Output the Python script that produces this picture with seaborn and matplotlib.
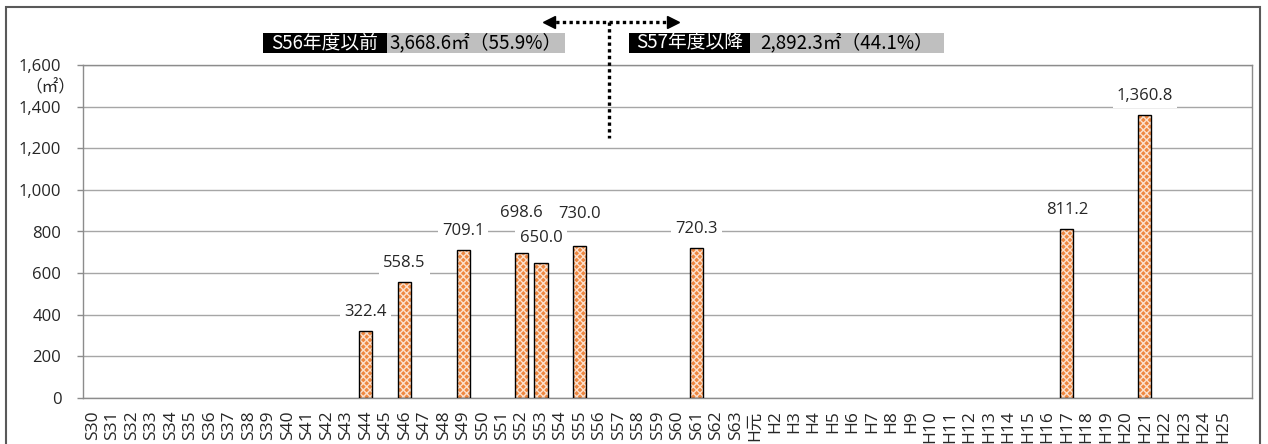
import matplotlib
matplotlib.use("Agg")
import matplotlib.pyplot as plt
from matplotlib.patches import Rectangle
from matplotlib.ticker import FuncFormatter
import numpy as np
import pandas as pd
import seaborn as sns

# Fiscal years on the x axis (Showa / Heisei), last slot left blank
years = [
    "S30", "S31", "S32", "S33", "S34", "S35", "S36", "S37", "S38", "S39",
    "S40", "S41", "S42", "S43", "S44", "S45", "S46", "S47", "S48", "S49",
    "S50", "S51", "S52", "S53", "S54", "S55", "S56", "S57", "S58", "S59",
    "S60", "S61", "S62", "S63", "H元", "H2", "H3", "H4", "H5", "H6",
    "H7", "H8", "H9", "H10", "H11", "H12", "H13", "H14", "H15", "H16",
    "H17", "H18", "H19", "H20", "H21", "H22", "H23", "H24", "H25", "",
]

# Floor area built per year (㎡)
built_years = ["S44", "S46", "S49", "S52", "S53", "S55", "S61", "H17", "H21"]
floor_area = [322.4, 558.5, 709.1, 698.6, 650.0, 730.0, 720.3, 811.2, 1360.8]

y_ticks = [0, 200, 400, 600, 800, 1000, 1200, 1400, 1600]
unit_label = "（㎡）"

before_label = "S56年度以前"
before_total = "3,668.6㎡（55.9%）"
after_label = "S57年度以降"
after_total = "2,892.3㎡（44.1%）"

# label offsets in pixels (dy above bar top)
label_offsets = {"S52": 40, "S53": 25, "S55": 32}

sns.set_theme(style="white")
plt.rcParams["font.family"] = ["Open Sans", "Noto Sans CJK JP", "DejaVu Sans"]
plt.rcParams["hatch.linewidth"] = 1.0

W, H = 1268, 444
fig = plt.figure(figsize=(W / 100, H / 100), dpi=100)
ax = fig.add_axes([83.25 / W, 46 / H, 1168.75 / W, 333 / H])

df = pd.DataFrame({"year": built_years, "area": floor_area})

# patterned fill
sns.barplot(data=df, x="year", y="area", order=years, color="#EE8740",
            saturation=1, width=0.67, errorbar=None, hatch="xxxxx",
            edgecolor="#FCE0CC", linewidth=0, ax=ax, zorder=2)
# black outline
sns.barplot(data=df, x="year", y="area", order=years, color="black",
            saturation=1, width=0.67, errorbar=None, fill=False,
            linewidth=1.0, ax=ax, zorder=3)

ax.set_xlim(-0.5, len(years) - 0.5)
ax.set_ylim(0, 1600)
ax.set_xlabel("")
ax.set_ylabel("")

ax.set_yticks(y_ticks)
ax.yaxis.set_major_formatter(FuncFormatter(lambda v, p: f"{v:,.0f}"))
ax.grid(axis="y", color="#A6A6A6", lw=1.0)
ax.grid(axis="x", visible=False)
ax.set_axisbelow(True)

ax.set_xticks(range(len(years)))
ax.set_xticklabels(years, rotation=90)
ax.set_xticks(np.arange(-0.5, len(years), 1), minor=True)
ax.tick_params(axis="x", which="major", length=0, pad=9, labelsize=12.5)
ax.tick_params(axis="x", which="minor", length=4, color="#8C8C8C", width=1)
ax.tick_params(axis="y", length=4.3, color="#8C8C8C", width=1, pad=11.5,
               labelsize=12, left=True)

for s in ax.spines.values():
    s.set_color("#8C8C8C")
    s.set_linewidth(1.0)
    s.set_visible(True)

# value labels
for yr, v in zip(built_years, floor_area):
    i = years.index(yr)
    dy = label_offsets.get(yr, 19)
    ax.annotate(f"{v:,.1f}", xy=(i, v), xytext=(0, dy),
                textcoords="offset pixels", ha="center", va="center",
                fontsize=12, zorder=5,
                bbox=dict(boxstyle="square,pad=0.25", fc="white", ec="none"))

# unit
fig.text(50 / W, 1 - 88 / H, unit_label, ha="center", va="center",
         fontsize=12, family=["Noto Sans CJK JP", "DejaVu Sans"])

# header boxes (axes fraction)
y0, y1 = 1.036, 1.096
boxes = [
    (0.1542, 0.2595, "black", before_label, "white"),
    (0.2595, 0.4122, "#BFBFBF", before_total, "black"),
    (0.4669, 0.5704, "black", after_label, "white"),
    (0.5704, 0.7365, "#BFBFBF", after_total, "black"),
]
for x0, x1, fc, txt, tc in boxes:
    ax.add_patch(Rectangle((x0, y0), x1 - x0, y1 - y0, transform=ax.transAxes,
                           fc=fc, ec="none", clip_on=False, zorder=6))
    ax.text((x0 + x1) / 2, (y0 + y1) / 2, txt, transform=ax.transAxes,
            ha="center", va="center", color=tc, fontsize=13.5,
            family=["Noto Sans CJK JP", "DejaVu Sans"], zorder=7,
            clip_on=False)

# dotted divider with two-way arrow at the S56/S57 boundary
ya = 1808
dot = dict(color="black", lw=2.4, ls=(0, (1, 1)), clip_on=False,
           dash_capstyle="butt", zorder=6)
ax.plot([23.4, 29.8], [ya, ya], **dot)
ax.plot([26.5, 26.5], [ya, 1249], **dot)
ax.plot([23.4], [ya], marker="<", ms=9, color="black", clip_on=False, zorder=7)
ax.plot([29.8], [ya], marker=">", ms=9, color="black", clip_on=False, zorder=7)

# outer frame
fig.add_artist(Rectangle((6 / W, -0.05), 1254 / W, (1 - 7 / H) + 0.05,
                         transform=fig.transFigure, fill=False,
                         ec="#595959", lw=1.5))

fig.savefig("out.png", dpi=100)
